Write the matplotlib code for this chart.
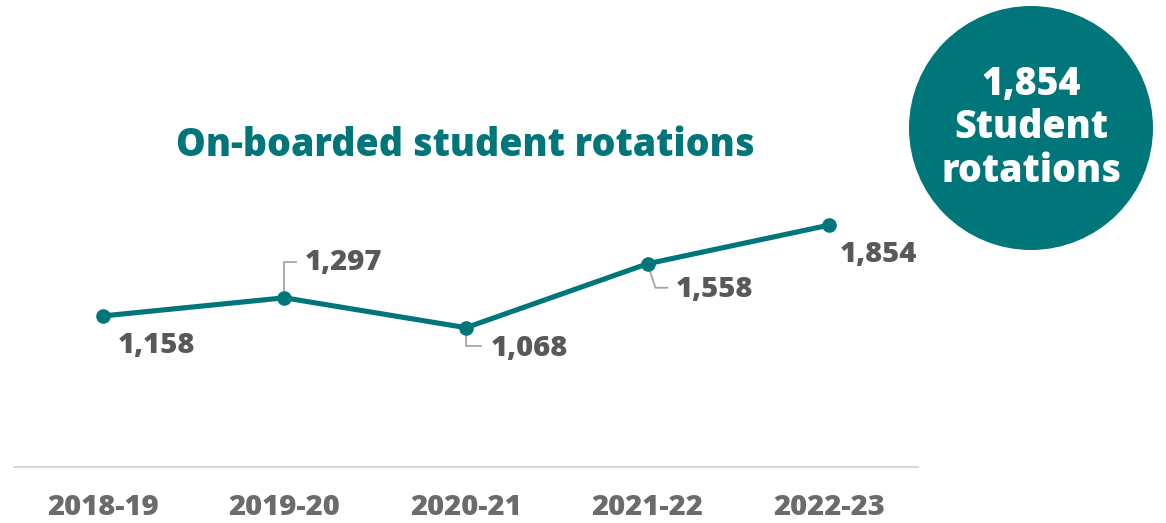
import numpy as np
import matplotlib
matplotlib.use("Agg")
import matplotlib.pyplot as plt
from matplotlib.patches import Ellipse

plt.rcParams["font.family"] = ["Open Sans", "DejaVu Sans"]

years = ["2018-19", "2019-20", "2020-21", "2021-22", "2022-23"]
rotations = [1158, 1297, 1068, 1558, 1854]
total_label = "1,854\nStudent\nrotations"
title = "On-boarded student rotations"

TEAL = "#00767a"
GREY_TXT = "#595959"
GREY_TICK = "#6b6b6b"
LEADER = "#a6a6a6"
WEIGHT = 800

# label offsets in pixels from each marker, plus optional leader line vertices
label_off = [(15, -30), (20, 35), (25, -21), (28, -26), (11, -29)]
leaders = [None,
           [(0, 0), (0, 36), (12, 36)],
           [(0, 0), (0, -18), (15, -18)],
           [(0, 0), (8, -24), (20, -24)],
           None]

W, H = 1166, 523
fig = plt.figure(figsize=(W / 100, H / 100), dpi=100)
ax = fig.add_axes([14 / W, 56 / H, (918 - 14) / W, 467 / H])

x = np.arange(len(years))
ax.plot(x, rotations, color=TEAL, lw=3.7, marker="o", ms=9.5,
        solid_capstyle="round", zorder=3)
ax.set_xlim(-0.49, len(years) - 1 + 0.49)
ax.set_ylim(0, 3580)

for s in ["top", "right", "left"]:
    ax.spines[s].set_visible(False)
ax.spines["bottom"].set_color("#d9d9d9")
ax.spines["bottom"].set_linewidth(1.5)
ax.set_yticks([])
ax.set_xticks(x)
ax.set_xticklabels([])
ax.tick_params(axis="x", length=0)
# year labels sit low, near the bottom edge
for xi, yr in zip(x, years):
    ax.annotate(yr, (xi, 0), xytext=(0, -48), textcoords="offset pixels",
                ha="center", va="baseline", fontsize=21, color=GREY_TICK,
                fontweight=WEIGHT, annotation_clip=False)

inv = ax.transData.inverted()
for xi, yi, off, ld in zip(x, rotations, label_off, leaders):
    ax.annotate(f"{yi:,}", (xi, yi), xytext=off, textcoords="offset pixels",
                ha="left", va="center", fontsize=21, color=GREY_TXT,
                fontweight=WEIGHT)
    if ld:
        px, py = ax.transData.transform((xi, yi))
        pts = inv.transform([(px + dx, py + dy) for dx, dy in ld])
        ax.plot(pts[:, 0], pts[:, 1], color=LEADER, lw=1.3, zorder=2)

fig.text(465 / W, 1 - 156 / H, title, ha="center", va="baseline",
         fontsize=27, color=TEAL, fontweight=WEIGHT)

# summary bubble on the right
fig.add_artist(Ellipse((1031 / W, 1 - 128 / H), 244 / W, 244 / H,
                       transform=fig.transFigure, color=TEAL, lw=0))
fig.text(1031 / W, 1 - 128 / H, total_label, ha="center", va="center",
         fontsize=27, color="white", fontweight=WEIGHT, linespacing=1.15)

fig.savefig("out.png", dpi=100)
